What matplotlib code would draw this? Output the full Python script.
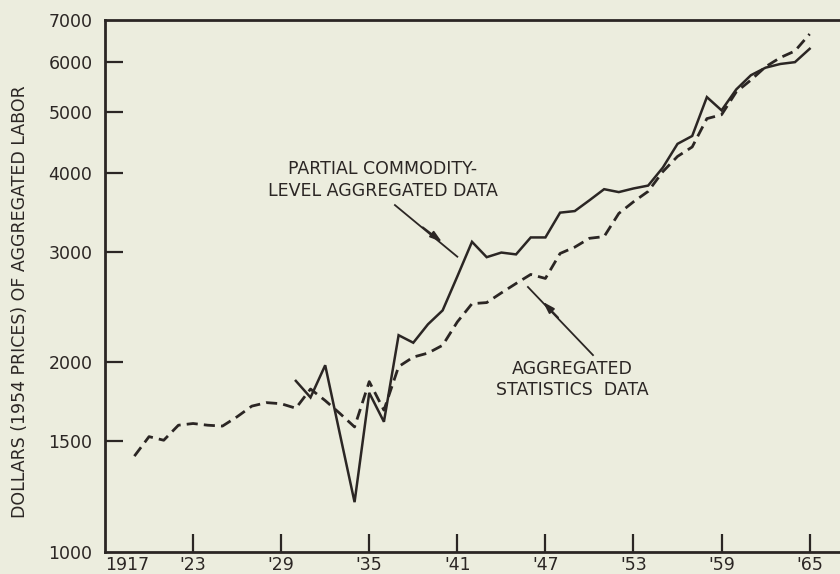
import numpy as np
import matplotlib
matplotlib.use("Agg")
import matplotlib.pyplot as plt
from matplotlib.ticker import FixedLocator, NullLocator

# ---- data ----
stat_years = list(range(1919, 1966))
stat_values = [1420, 1525, 1505, 1590, 1600, 1590, 1585, 1640, 1705, 1727,
               1720, 1692, 1815, 1740, 1660, 1580, 1865, 1680, 1970, 2040,
               2070, 2130, 2320, 2480, 2490, 2580, 2670, 2760, 2720, 2980,
               3050, 3150, 3170, 3450, 3600, 3740, 4020, 4250, 4400, 4880,
               4950, 5380, 5620, 5900, 6100, 6250, 6650]

comm_years = list(range(1930, 1966))
comm_values = [1870, 1760, 1980, 1540, 1200, 1790, 1610, 2210, 2150, 2300,
               2420, 2740, 3110, 2940, 2990, 2970, 3160, 3160, 3460, 3480,
               3620, 3770, 3730, 3780, 3820, 4080, 4450, 4580, 5280, 5030,
               5430, 5720, 5880, 5960, 6000, 6300]

x_ticks = [1917, 1923, 1929, 1935, 1941, 1947, 1953, 1959, 1965]
x_tick_labels = ["1917", "'23", "'29", "'35", "'41", "'47", "'53", "'59", "'65"]
y_ticks = [1000, 1500, 2000, 3000, 4000, 5000, 6000, 7000]
y_tick_labels = ["1000", "1500", "2000", "3000", "4000", "5000", "6000", "7000"]

ylabel = "DOLLARS (1954 PRICES) OF AGGREGATED LABOR"
label_comm = "PARTIAL COMMODITY-\nLEVEL AGGREGATED DATA"
label_stat = "AGGREGATED\nSTATISTICS  DATA"

# ---- style ----
bg = "#ecedde"
ink = "#2b2624"
plt.rcParams['font.family'] = ['DejaVu Sans']

fig = plt.figure(figsize=(8.4, 5.74), dpi=100, facecolor=bg)
ax = fig.add_axes([105/840, 22/574, 734/840, 532/574], facecolor=bg)

ax.set_yscale('log')
ax.set_xlim(1917, 1967)
ax.set_ylim(1000, 7000)

ax.plot(comm_years, comm_values, color=ink, lw=1.8, solid_joinstyle='miter')
ax.plot(stat_years, stat_values, color=ink, lw=2.0, linestyle=(0, (4, 2.2)))

# ticks
ax.xaxis.set_major_locator(FixedLocator(x_ticks))
ax.set_xticklabels(x_tick_labels)
ax.xaxis.set_minor_locator(NullLocator())
ax.yaxis.set_major_locator(FixedLocator(y_ticks))
ax.yaxis.set_minor_locator(NullLocator())
ax.set_yticklabels(y_tick_labels)

ax.tick_params(axis='both', direction='in', length=13, width=1.6, color=ink,
               labelsize=12.5, labelcolor=ink)
ax.tick_params(axis='x', pad=3)
ax.tick_params(axis='y', pad=9)
lbls = ax.get_xticklabels()
lbls[0].set_horizontalalignment('left')

for s in ['left', 'bottom', 'top']:
    ax.spines[s].set_color(ink)
    ax.spines[s].set_linewidth(2.0)
ax.spines['right'].set_visible(False)

# hide tick marks at corners (1917, 1000, 7000)
ax.xaxis.get_major_ticks()[0].tick1line.set_visible(False)
yt = ax.yaxis.get_major_ticks()
yt[0].tick1line.set_visible(False)
yt[-1].tick1line.set_visible(False)

ax.set_ylabel(ylabel, fontsize=12.5, color=ink, labelpad=10)
ax.yaxis.set_label_coords(-0.103, 0.47)

# annotations
ax.text(1935.9, 3900, label_comm, ha='center', va='center', fontsize=12.5,
        color=ink, multialignment='center', linespacing=1.25)
ax.plot([1936.75, 1941.0], [3557, 2945], color=ink, lw=1.3)
ax.annotate("", xy=(1940.1, 3090), xytext=(1938.5, 3300),
            arrowprops=dict(arrowstyle='-|>,head_length=0.7,head_width=0.22',
                            color=ink, lw=1.3))

ax.text(1948.8, 1880, label_stat, ha='center', va='center', fontsize=12.5,
        color=ink, multialignment='center', linespacing=1.25)
ax.plot([1950.24, 1945.81], [2055, 2636], color=ink, lw=1.3)
ax.annotate("", xy=(1946.7, 2515), xytext=(1948.0, 2340),
            arrowprops=dict(arrowstyle='-|>,head_length=0.7,head_width=0.22',
                            color=ink, lw=1.3))

fig.savefig("out.png", dpi=100, facecolor=bg)
